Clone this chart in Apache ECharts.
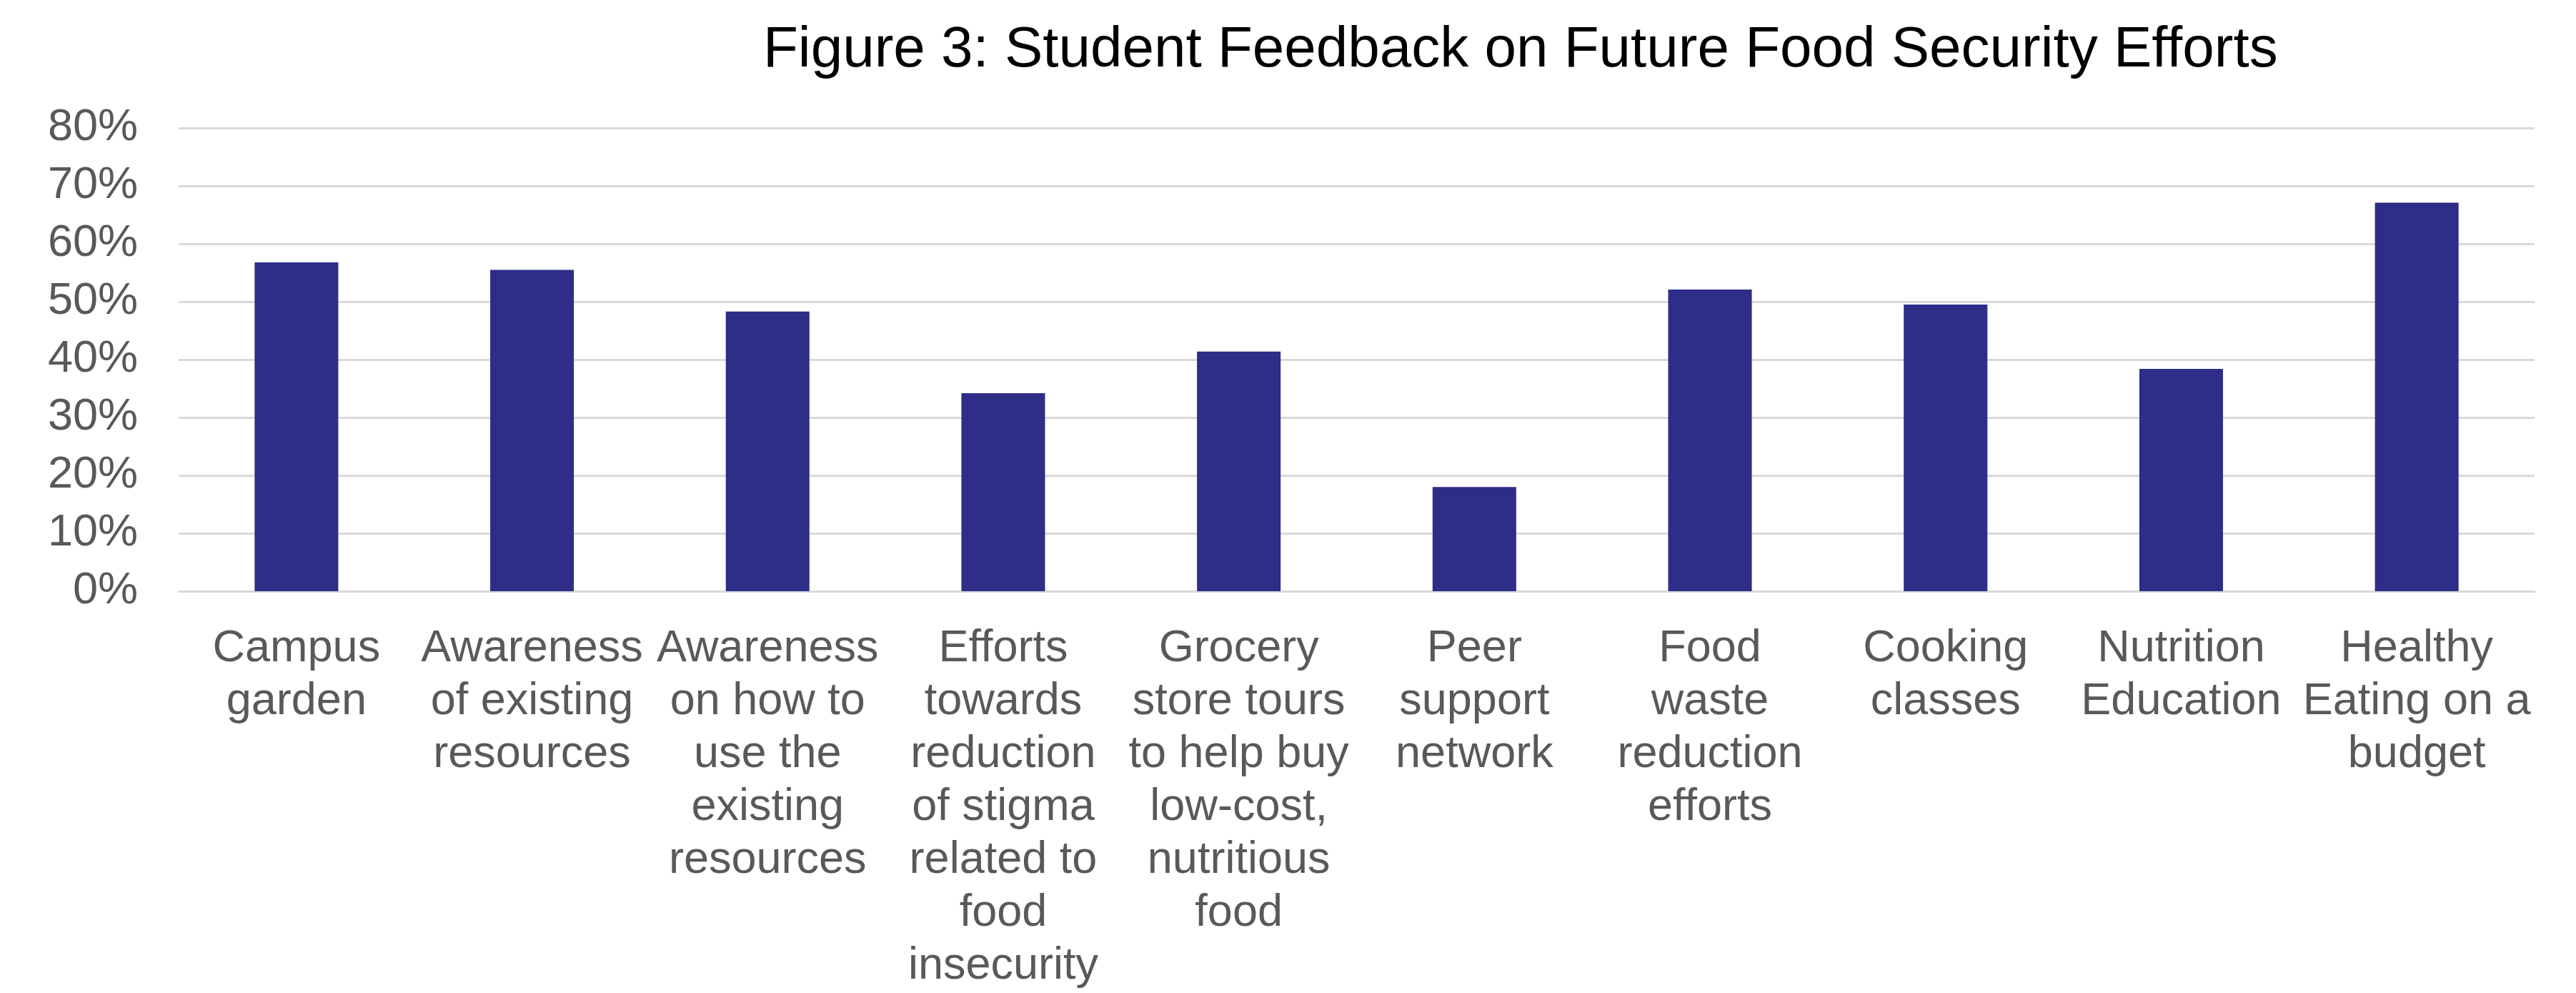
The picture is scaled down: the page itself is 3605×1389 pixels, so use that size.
<!DOCTYPE html>
<html>
<head>
<meta charset="utf-8">
<script src="https://cdn.jsdelivr.net/npm/echarts@6/dist/echarts.min.js"></script>
<style>
html,body{margin:0;padding:0;background:#fff;}
#chart{width:3605px;height:1389px;}
</style>
</head>
<body>
<div id="chart"></div>
<script>
const titleText = "Figure 3: Student Feedback on Future Food Security Efforts";
const categories = [
  "Campus\ngarden",
  "Awareness\nof existing\nresources",
  "Awareness\non how to\nuse the\nexisting\nresources",
  "Efforts\ntowards\nreduction\nof stigma\nrelated to\nfood\ninsecurity",
  "Grocery\nstore tours\nto help buy\nlow-cost,\nnutritious\nfood",
  "Peer\nsupport\nnetwork",
  "Food\nwaste\nreduction\nefforts",
  "Cooking\nclasses",
  "Nutrition\nEducation",
  "Healthy\nEating on a\nbudget"
];
const values = [56.8, 55.5, 48.3, 34.2, 41.4, 18.0, 52.1, 49.5, 38.4, 67.1];
const yMin = 0, yMax = 80, yInterval = 10;

const chart = echarts.init(document.getElementById('chart'), null, {renderer: 'canvas'});
chart.setOption({
  animation: false,
  backgroundColor: '#ffffff',
  title: {
    text: titleText,
    left: 1068,
    top: 31,
    padding: 0,
    textStyle: {fontFamily: 'Liberation Sans, Arial, sans-serif', fontSize: 80, fontWeight: 'normal', color: '#000000'}
  },
  grid: {left: 250, right: 58, top: 179, bottom: 551, containLabel: false},
  xAxis: {
    type: 'category',
    data: categories,
    axisLine: {show: true, lineStyle: {color: '#D9D9D9', width: 3}},
    axisTick: {show: false},
    axisLabel: {
      interval: 0,
      margin: 44,
      fontFamily: 'Liberation Sans, Arial, sans-serif',
      fontSize: 63,
      lineHeight: 74,
      color: '#595959',
      align: 'center'
    }
  },
  yAxis: {
    type: 'value',
    min: yMin,
    max: yMax,
    interval: yInterval,
    axisLine: {show: false},
    axisTick: {show: false},
    splitLine: {lineStyle: {color: '#D9D9D9', width: 3}},
    axisLabel: {
      formatter: '{value}%',
      margin: 57,
      fontFamily: 'Liberation Sans, Arial, sans-serif',
      fontSize: 63,
      color: '#595959'
    }
  },
  series: [{
    type: 'bar',
    data: values,
    barWidth: '35.5%',
    itemStyle: {color: '#2E2D88'}
  }]
});
</script>
</body>
</html>
